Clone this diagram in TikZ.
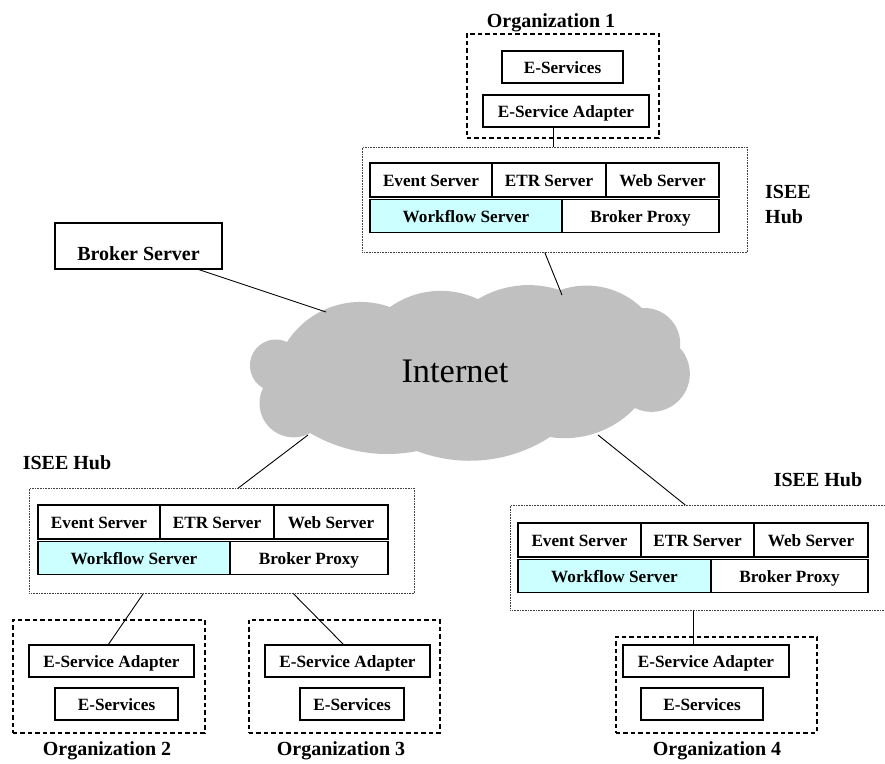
\documentclass[tikz,border=0pt]{standalone}
\usepackage{fontspec}
\setmainfont{Liberation Serif}
\usetikzlibrary{positioning}

\definecolor{cloudgray}{HTML}{C0C0C0}
\definecolor{wfcyan}{HTML}{CCFFFF}

\begin{document}
\begin{tikzpicture}[
  x=1pt, y=-1pt,
  cell/.style={draw, line width=1.2pt, fill=white, inner sep=0pt, outer sep=0pt,
    text height=13pt, text depth=0pt, font=\fontsize{17.2pt}{20pt}\selectfont\bfseries},
  toprow/.style={cell, minimum height=34},
  botrow/.style={cell, minimum height=33},
  svbox/.style={cell, minimum height=32, anchor=north west},
  hubbox/.style={draw=black!75, line width=0.6pt, densely dotted, minimum width=385, minimum height=105, anchor=north west},
  orgbox/.style={draw, line width=1.5pt, dash pattern=on 4.5pt off 3pt, anchor=north west},
  lbl/.style={inner sep=0pt, font=\fontsize{20pt}{25pt}\selectfont\bfseries},
  link/.style={line width=0.9pt}
]
\useasboundingbox (0,0) rectangle (885,763);

% the internet cloud
\fill[cloudgray] (263,388)
  arc[start angle=119.7, end angle=295.4, radius=25.96]
  arc[start angle=212.8, end angle=289.7, radius=87.4]
  arc[start angle=234.5, end angle=295.2, radius=87.4]
  arc[start angle=239.1, end angle=288.4, radius=99]
  arc[start angle=250.45, end angle=314.2, radius=79.4]
  arc[start angle=266, end angle=366.9, radius=35.8]
  arc[start angle=317.8, end angle=476, radius=38.2]
  arc[start angle=43.6, end angle=98.7, radius=97.1]
  arc[start angle=57.1, end angle=110.9, radius=147.7]
  arc[start angle=78.7, end angle=120.4, radius=152.2]
  arc[start angle=61, end angle=206.5, radius=34.1] -- cycle;
\node[font=\fontsize{34.4pt}{40pt}\selectfont] (inet) at (455,371) {Internet};

% broker server
\node[cell, font=\fontsize{20pt}{24pt}\selectfont\bfseries, text height=28pt,
  minimum width=167, minimum height=46, anchor=north west] (broker) at (55,223) {Broker Server};

% ISEE hub 1 (top)
\node[hubbox] (hub1) at (362,147) {};
\node[toprow, minimum width=122, anchor=north west] (ev1) at ([shift={(8,16)}]hub1.north west) {Event Server};
\node[toprow, minimum width=114, right=0pt of ev1] (etr1) {ETR Server};
\node[toprow, minimum width=113, right=0pt of etr1] (web1) {Web Server};
\node[botrow, fill=wfcyan, minimum width=192, below=2.5pt of ev1.south west, anchor=north west] (wf1) {Workflow Server};
\node[botrow, minimum width=157, right=0pt of wf1] (bp1) {Broker Proxy};
\node[lbl, align=left, anchor=north west] (hub1lbl) at (765,185) {ISEE\\Hub};

% ISEE hub 2 (left)
\node[hubbox] (hub2) at (29,488) {};
\node[toprow, minimum width=122, anchor=north west] (ev2) at ([shift={(9,17)}]hub2.north west) {Event Server};
\node[toprow, minimum width=114, right=0pt of ev2] (etr2) {ETR Server};
\node[toprow, minimum width=114, right=0pt of etr2] (web2) {Web Server};
\node[botrow, fill=wfcyan, minimum width=192, below=2.5pt of ev2.south west, anchor=north west] (wf2) {Workflow Server};
\node[botrow, minimum width=158, right=0pt of wf2] (bp2) {Broker Proxy};
\node[lbl, anchor=base] (hub2lbl) at (67,469) {ISEE Hub};

% ISEE hub 4 (right)
\node[hubbox] (hub4) at (510,505) {};
\node[toprow, minimum width=123, anchor=north west] (ev4) at ([shift={(8,18)}]hub4.north west) {Event Server};
\node[toprow, minimum width=113, right=0pt of ev4] (etr4) {ETR Server};
\node[toprow, minimum width=114, right=0pt of etr4] (web4) {Web Server};
\node[botrow, fill=wfcyan, minimum width=193, below=2.5pt of ev4.south west, anchor=north west] (wf4) {Workflow Server};
\node[botrow, minimum width=157, right=0pt of wf4] (bp4) {Broker Proxy};
\node[lbl, anchor=base] (hub4lbl) at (818,486) {ISEE Hub};

% organizations
\node[orgbox, minimum width=192, minimum height=104] (org1) at (466,33) {};
\node[svbox, minimum width=121] (es1) at (502,51) {E-Services};
\node[svbox, minimum width=166] (ad1) at (483,95) {E-Service Adapter};
\node[lbl, anchor=base] (org1lbl) at (551,27) {Organization 1};

\node[orgbox, minimum width=192, minimum height=113] (org2) at (12,619) {};
\node[svbox, minimum width=165] (ad2) at (29,645) {E-Service Adapter};
\node[svbox, minimum width=123] (es2) at (55,688) {E-Services};
\node[lbl, anchor=base] (org2lbl) at (107,755) {Organization 2};

\node[orgbox, minimum width=191, minimum height=113] (org3) at (248,619) {};
\node[svbox, minimum width=165] (ad3) at (265,645) {E-Service Adapter};
\node[svbox, minimum width=104] (es3) at (300,688) {E-Services};
\node[lbl, anchor=base] (org3lbl) at (341,755) {Organization 3};

\node[orgbox, minimum width=201, minimum height=96] (org4) at (615,636) {};
\node[svbox, minimum width=166] (ad4) at (623,645) {E-Service Adapter};
\node[svbox, minimum width=122] (es4) at (641,688) {E-Services};
\node[lbl, anchor=base] (org4lbl) at (717,755) {Organization 4};

% ends of the links inside the cloud
\coordinate (net-broker) at (326,312);
\coordinate (net-hub1) at (562,295);
\coordinate (net-hub2) at (308,435);
\coordinate (net-hub4) at (598,435);

\draw[link] ([xshift=-25]broker.south east) -- (net-broker);
\draw[link] ([xshift=-10]hub1.south) -- (net-hub1);
\draw[link] (net-hub2) -- ([xshift=16.5]hub2.north);
\draw[link] (net-hub4) -- ([xshift=-17.5]hub4.north);
\draw[link] ([xshift=-13]ad1.south) -- ([xshift=-13]ad1.south |- hub1.north);
\draw[link] ([xshift=-78.5]hub2.south) -- ([xshift=-3.5]ad2.north);
\draw[link] ([xshift=71.5]hub2.south) -- ([xshift=-3.5]ad3.north);
\draw[link] ([xshift=-9.5]hub4.south) -- ([xshift=-9.5]hub4.south |- ad4.north);
\end{tikzpicture}
\end{document}
